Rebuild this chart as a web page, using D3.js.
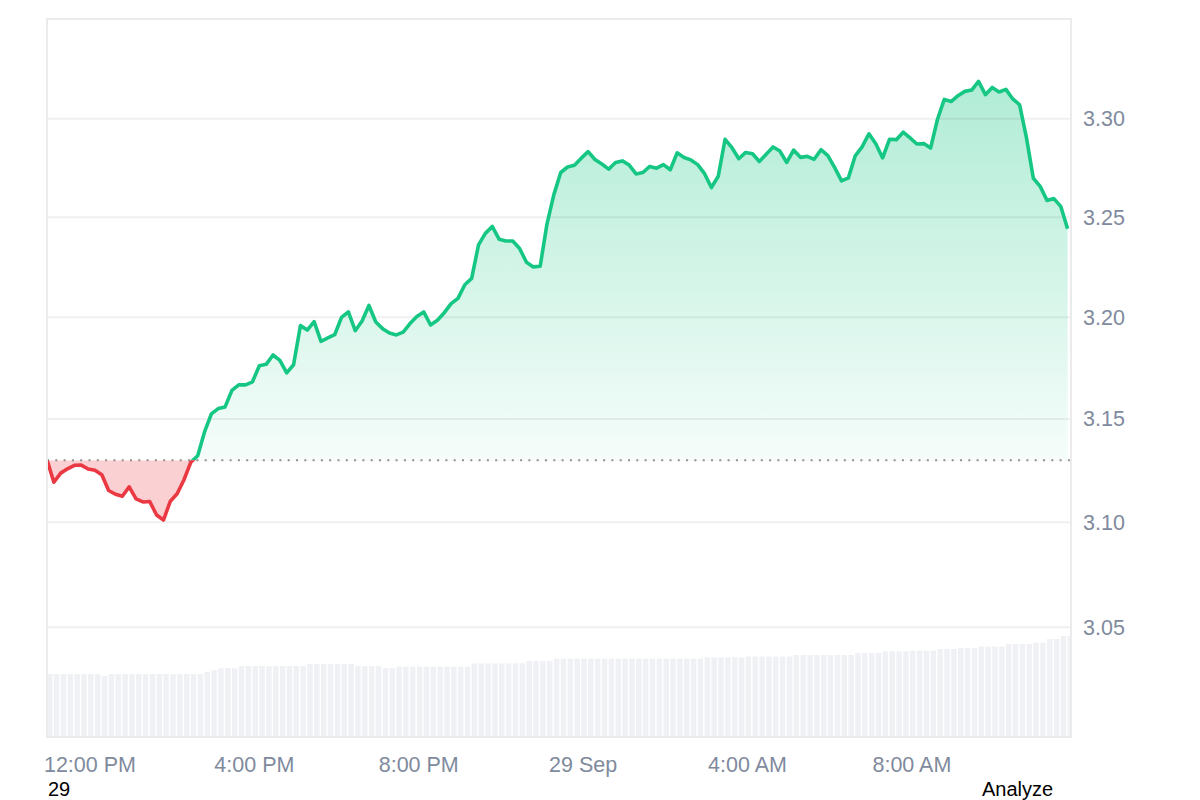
<!DOCTYPE html>
<html>
<head>
<meta charset="utf-8">
<script src="https://cdn.jsdelivr.net/npm/d3@7"></script>
<style>
    body { margin: 0; background: #fff; }
    svg { display: block; font-family: "Liberation Sans", Arial, sans-serif; }
</style>
</head>
<body>
<div id="container"></div>
<script>
//price samples, one every 10 minutes from 28 Sep 10:58
var prices = [
    3.1302, 3.1193, 3.1237, 3.1258, 3.1275, 3.1276, 3.1257, 3.1251, 3.1229, 3.1153,
    3.1135, 3.1125, 3.1171, 3.1113, 3.1098, 3.1100, 3.1035, 3.1011, 3.1101, 3.1137,
    3.1205, 3.1290, 3.1321, 3.1437, 3.1525, 3.1551, 3.1559, 3.1640, 3.1667, 3.1667,
    3.1682, 3.1761, 3.1768, 3.1814, 3.1787, 3.1726, 3.1766, 3.1959, 3.1937, 3.1979,
    3.1881, 3.1898, 3.1914, 3.2000, 3.2027, 3.1934, 3.1982, 3.2059, 3.1977, 3.1944,
    3.1922, 3.1913, 3.1927, 3.1969, 3.2004, 3.2027, 3.1962, 3.1986, 3.2023, 3.2068,
    3.2094, 3.2162, 3.2194, 3.2361, 3.2419, 3.2454, 3.2390, 3.2381, 3.2381, 3.2343,
    3.2274, 3.2251, 3.2254, 3.2467, 3.2614, 3.2726, 3.2754, 3.2763, 3.2799, 3.2832,
    3.2792, 3.2769, 3.2743, 3.2777, 3.2785, 3.2764, 3.2719, 3.2726, 3.2757, 3.2748,
    3.2766, 3.2740, 3.2826, 3.2802, 3.2790, 3.2766, 3.2720, 3.2650, 3.2707, 3.2895,
    3.2852, 3.2796, 3.2828, 3.2821, 3.2782, 3.2819, 3.2856, 3.2835, 3.2777, 3.2840,
    3.2803, 3.2808, 3.2793, 3.2842, 3.2812, 3.2751, 3.2684, 3.2699, 3.2811, 3.2856,
    3.2923, 3.2872, 3.2800, 3.2895, 3.2893, 3.2931, 3.2902, 3.2871, 3.2873, 3.2850,
    3.2996, 3.3099, 3.3088, 3.3118, 3.3140, 3.3147, 3.3191, 3.3123, 3.3160, 3.3137,
    3.3150, 3.3101, 3.3071, 3.2902, 3.2697, 3.2656, 3.2585, 3.2594, 3.2555, 3.2442
];
//volume (millions) for the same samples
var volumes = [
    157.5, 157.5, 157.5, 157.5, 157.5, 157.5, 157.5, 157.5, 152.5, 157.5,
    157.5, 157.5, 157.5, 157.5, 157.5, 157.5, 157.5, 157.5, 157.5, 157.5,
    157.5, 157.5, 157.5, 163, 167.5, 172, 172, 172, 177.5, 177.5,
    177.5, 177.5, 177.5, 177.5, 177.5, 177.5, 177.5, 177.5, 182.5, 182.5,
    182.5, 182.5, 182.5, 182.5, 182.5, 177.5, 177.5, 177.5, 177.5, 172,
    172, 176, 176, 176, 176, 176, 176, 176, 176, 176,
    176, 176, 184, 184, 184, 184, 184, 184, 184, 184,
    190, 190, 190, 190, 196, 196, 196, 196, 196, 196,
    196, 196, 196, 196, 196, 196, 196, 196, 196, 196,
    196, 196, 196, 196, 196, 196, 199, 199, 199, 199,
    199, 199, 201, 201, 201, 201, 201, 201, 201, 205,
    205, 205, 205, 205, 205, 205, 205, 205, 210, 210,
    210, 210, 214, 214, 214, 214, 216, 216, 216, 216,
    220, 220, 220, 222.5, 222.5, 222.5, 226, 226, 226, 226,
    232.5, 232.5, 232.5, 232.5, 236, 236, 245, 245, 252.5, 252.5
];
var openPrice = 3.13;
var priceTicks = [3.05, 3.10, 3.15, 3.20, 3.25, 3.30];
var timeTicks = [
    new Date(2024, 8, 28, 12, 0), new Date(2024, 8, 28, 16, 0), new Date(2024, 8, 28, 20, 0),
    new Date(2024, 8, 29, 0, 0), new Date(2024, 8, 29, 4, 0), new Date(2024, 8, 29, 8, 0)
];
var timeLabels = ["12:00 PM", "4:00 PM", "8:00 PM", "29 Sep", "4:00 AM", "8:00 AM"];
var startTime = new Date(2024, 8, 28, 10, 58),
    endTime = new Date(2024, 8, 29, 11, 53),
    stepMinutes = 10;

(function(){
    var width = 1200, height = 800;
    var left = 47, right = 1071, top = 19, bottom = 737;

    var svg = d3.select("#container")
        .append("svg")
        .attr("width", width)
        .attr("height", height);

    var data = prices.map(function(p, i){
        return { t: new Date(+startTime + i * stepMinutes * 60000), p: p, v: volumes[i] };
    });

    var x = d3.scaleTime().domain([startTime, endTime]).range([left, right]);
    var y = d3.scaleLog().domain([3.10, 3.30]).range([522.3, 118.7]);
    var yVol = d3.scaleLinear().domain([0, 300]).range([bottom, bottom - 120]);
    var baseY = y(openPrice);

    var defs = svg.append("defs");
    defs.append("clipPath").attr("id", "plot")
        .append("rect").attr("x", left).attr("y", top).attr("width", right - left).attr("height", bottom - top);
    defs.append("clipPath").attr("id", "up")
        .append("rect").attr("x", left).attr("y", 0).attr("width", right - left).attr("height", baseY);
    defs.append("clipPath").attr("id", "down")
        .append("rect").attr("x", left).attr("y", baseY).attr("width", right - left).attr("height", height - baseY);
    var grad = defs.append("linearGradient").attr("id", "gUp")
        .attr("gradientUnits", "userSpaceOnUse")
        .attr("x1", 0).attr("x2", 0).attr("y1", y(3.32)).attr("y2", baseY);
    grad.append("stop").attr("offset", 0).attr("stop-color", "#16c784").attr("stop-opacity", 0.34);
    grad.append("stop").attr("offset", 1).attr("stop-color", "#16c784").attr("stop-opacity", 0.04);

    //volume bars
    var barW = (x(data[1].t) - x(data[0].t)) * 0.8;
    svg.append("g").attr("clip-path", "url(#plot)")
        .selectAll("rect").data(data).enter().append("rect")
        .attr("x", function(d){ return x(d.t); })
        .attr("y", function(d){ return yVol(d.v); })
        .attr("width", barW)
        .attr("height", function(d){ return bottom - yVol(d.v); })
        .attr("fill", "#eff1f5");

    //areas
    var area = d3.area().x(function(d){ return x(d.t); }).y0(baseY).y1(function(d){ return y(d.p); });
    svg.append("path").datum(data).attr("d", area)
        .attr("fill", "url(#gUp)").attr("clip-path", "url(#up)");
    svg.append("path").datum(data).attr("d", area)
        .attr("fill", "#ea3943").attr("fill-opacity", 0.24).attr("clip-path", "url(#down)");

    //grid
    svg.append("g").selectAll("line").data(priceTicks).enter().append("line")
        .attr("x1", left).attr("x2", right)
        .attr("y1", function(d){ return y(d); }).attr("y2", function(d){ return y(d); })
        .attr("stroke", "#000").attr("stroke-opacity", 0.06).attr("stroke-width", 2);

    //open price
    svg.append("line")
        .attr("x1", left).attr("x2", right).attr("y1", baseY).attr("y2", baseY)
        .attr("stroke", "#8f8f8f").attr("stroke-width", 2).attr("stroke-dasharray", "2 6.3");

    //price line
    var line = d3.line().x(function(d){ return x(d.t); }).y(function(d){ return y(d.p); });
    svg.append("path").datum(data).attr("d", line)
        .attr("fill", "none").attr("stroke", "#16c784").attr("stroke-width", 3.6)
        .attr("stroke-linejoin", "round").attr("clip-path", "url(#up)");
    svg.append("path").datum(data).attr("d", line)
        .attr("fill", "none").attr("stroke", "#ea3943").attr("stroke-width", 3.6)
        .attr("stroke-linejoin", "round").attr("clip-path", "url(#down)");

    //frame
    svg.append("rect")
        .attr("x", left).attr("y", top).attr("width", right - left).attr("height", bottom - top)
        .attr("fill", "none").attr("stroke", "#ebebeb").attr("stroke-width", 2);

    //axes
    var xAxis = svg.append("g").attr("transform", "translate(0,757)")
        .call(d3.axisBottom(x).tickValues(timeTicks)
            .tickFormat(function(d, i){ return timeLabels[i]; })
            .tickSize(0).tickPadding(0));
    var yAxis = svg.append("g").attr("transform", "translate(1083,0)")
        .call(d3.axisRight(y).tickValues(priceTicks)
            .tickFormat(d3.format(".2f"))
            .tickSize(0).tickPadding(0));
    [xAxis, yAxis].forEach(function(g){
        g.select(".domain").remove();
        g.selectAll("text")
            .attr("fill", "#808a9d")
            .style("font-size", "21.5px")
            .style("font-family", "'Liberation Sans', Arial, sans-serif");
    });

    svg.append("text").attr("x", 48).attr("y", 795.5)
        .style("font-size", "20px").attr("fill", "#000").text("29");
    svg.append("text").attr("x", 982).attr("y", 795.5)
        .style("font-size", "20px").attr("fill", "#000").text("Analyze");
})();
</script>
</body>
</html>
